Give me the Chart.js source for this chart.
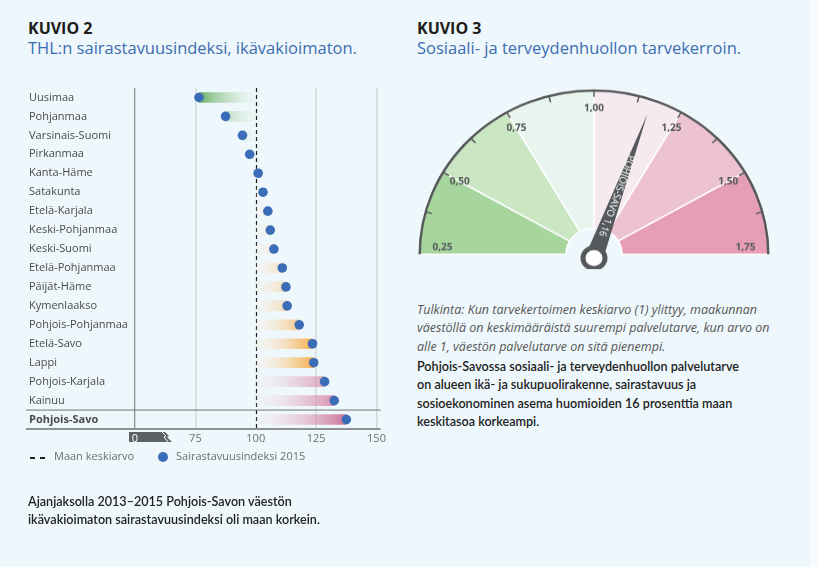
<!DOCTYPE html>
<html lang="fi">
<head>
<meta charset="utf-8">
<script src="https://cdn.jsdelivr.net/npm/chart.js@4.4.1/dist/chart.umd.min.js"></script>
<style>
    body {
        margin: 0;
        width: 818px;
        height: 567px;
        background: #eef7fb;
        font-family: "Open Sans", sans-serif;
        position: relative;
        overflow: hidden;
    }
    .edge { position: absolute; left: 810px; top: 0; width: 8px; height: 567px; background: #f6fbfd; }
    .txt { position: absolute; white-space: nowrap; }
    .kuvio { font-size: 16px; line-height: 20px; font-weight: 700; color: #1d1d1b; }
    .sub { font-size: 16.5px; line-height: 20px; color: #3c6db2; }
    .legend { font-size: 11px; line-height: 14px; color: #6d6e70; }
    .note { font-size: 12.5px; line-height: 18.3px; font-style: italic; color: #555; }
    .body { font-family: Lato, "Open Sans", sans-serif; font-size: 12.6px; line-height: 18.3px; font-weight: 600; color: #222; }
    .dash { position: absolute; top: 457px; width: 5px; height: 1.5px; background: #222; }
    .dot { position: absolute; left: 158px; top: 452px; width: 10px; height: 10px; border-radius: 50%; background: #3a6cb7; }
    #barWrap { position: absolute; left: 0; top: 0; width: 400px; height: 480px; }
    #gaugeWrap { position: absolute; left: 404px; top: 60px; width: 380px; height: 210px;
                 transform: scaleY(0.94); transform-origin: 190px 195px; }
</style>
</head>
<body>
<div class="edge"></div>

<div class="txt kuvio" style="left:28px; top:18px;">KUVIO 2</div>
<div class="txt sub" style="left:28px; top:38px;">THL:n sairastavuusindeksi, ikävakioimaton.</div>

<div class="txt kuvio" style="left:417px; top:18px;">KUVIO 3</div>
<div class="txt sub" style="left:417px; top:38px;">Sosiaali- ja terveydenhuollon tarvekerroin.</div>

<div id="barWrap"><canvas id="barChart" width="400" height="480"></canvas></div>
<div id="gaugeWrap"><canvas id="gaugeChart" width="380" height="210"></canvas></div>

<!-- legend for kuvio 2 -->
<div class="dash" style="left:30px;"></div>
<div class="dash" style="left:40px;"></div>
<div class="txt legend" style="left:54px; top:449px;">Maan keskiarvo</div>
<div class="dot"></div>
<div class="txt legend" style="left:176px; top:449px;">Sairastavuusindeksi 2015</div>

<div class="txt body" style="left:28px; top:493px;">Ajanjaksolla 2013–2015 Pohjois-Savon väestön<br>ikävakioimaton sairastavuusindeksi oli maan korkein.</div>

<div class="txt note" style="left:417px; top:301px;">Tulkinta: Kun tarvekertoimen keskiarvo (1) ylittyy, maakunnan<br>väestöllä on keskimääräistä suurempi palvelutarve, kun arvo on<br>alle 1, väestön palvelutarve on sitä pienempi.</div>
<div class="txt body" style="left:417px; top:358px;">Pohjois-Savossa sosiaali- ja terveydenhuollon palvelutarve<br>on alueen ikä- ja sukupuolirakenne, sairastavuus ja<br>sosioekonominen asema huomioiden 16 prosenttia maan<br>keskitasoa korkeampi.</div>

<script>
// Kuvio 2 data
const regions = ['Uusimaa', 'Pohjanmaa', 'Varsinais-Suomi', 'Pirkanmaa', 'Kanta-Häme', 'Satakunta',
    'Etelä-Karjala', 'Keski-Pohjanmaa', 'Keski-Suomi', 'Etelä-Pohjanmaa', 'Päijät-Häme', 'Kymenlaakso',
    'Pohjois-Pohjanmaa', 'Etelä-Savo', 'Lappi', 'Pohjois-Karjala', 'Kainuu', 'Pohjois-Savo'];
const index2015 = [76.5, 87.5, 94.5, 97.5, 101, 103, 105, 106, 107.5, 111, 112.5, 113, 118, 123.5, 124, 128.5, 132.5, 137.5];
const nationalAverage = 100;
const xTicks = [50, 75, 100, 125, 150];          // 50 sits at the broken-axis "0"
const xTickLabels = ['0', '75', '100', '125', '150'];

// Kuvio 3 data
const gaugeBounds = [0.25, 0.50, 0.75, 1.00, 1.25, 1.50, 1.75];
const gaugeLabels = ['0,25', '0,50', '0,75', '1,00', '1,25', '1,50', '1,75'];
const pohjoisSavoCoef = 1.16;
const needleText = 'POHJOIS-SAVO 1,16';

const FONT = '"Open Sans", sans-serif';

// gradient fill for the bars, depends on which side of the average we are
function barFill(context) {
    const chart = context.chart;
    if (!chart.chartArea) return 'transparent';
    const x = chart.scales.x;
    const ctx = chart.ctx;
    const v = index2015[context.dataIndex];
    let g;
    if (v < nationalAverage) {
        g = ctx.createLinearGradient(x.getPixelForValue(75), 0, x.getPixelForValue(100), 0);
        g.addColorStop(0, '#5aa653');
        g.addColorStop(1, 'rgba(225,240,222,0.15)');
    } else if (v <= 125) {
        g = ctx.createLinearGradient(x.getPixelForValue(100), 0, x.getPixelForValue(125), 0);
        g.addColorStop(0, 'rgba(253,240,222,0.15)');
        g.addColorStop(1, '#f5a73c');
    } else {
        g = ctx.createLinearGradient(x.getPixelForValue(100), 0, x.getPixelForValue(140), 0);
        g.addColorStop(0, 'rgba(245,225,233,0.1)');
        g.addColorStop(1, '#c9668f');
    }
    return g;
}

const barExtras = {
    id: 'barExtras',
    beforeDraw(chart) {
        // grey box + break mark behind the "0" tick
        const ctx = chart.ctx;
        const x0 = chart.scales.x.getPixelForValue(xTicks[0]);
        const top = chart.chartArea.bottom + 3;
        ctx.save();
        ctx.fillStyle = '#5d6163';
        ctx.beginPath();
        ctx.moveTo(x0 - 6, top);
        ctx.lineTo(x0 + 30, top);
        ctx.lineTo(x0 + 34, top + 4);
        ctx.lineTo(x0 + 32, top + 5);
        ctx.lineTo(x0 + 37, top + 10);
        ctx.lineTo(x0 - 6, top + 10);
        ctx.closePath();
        ctx.fill();
        ctx.strokeStyle = '#ffffff';
        ctx.lineWidth = 1;
        ctx.beginPath();
        ctx.moveTo(x0 + 27, top);
        ctx.lineTo(x0 + 31, top + 4);
        ctx.lineTo(x0 + 29, top + 5);
        ctx.lineTo(x0 + 33, top + 10);
        ctx.stroke();
        ctx.restore();
    },
    beforeDatasetsDraw(chart) {
        const ctx = chart.ctx;
        const area = chart.chartArea;
        const x = chart.scales.x;
        const y = chart.scales.y;
        ctx.save();
        // average line
        const xa = Math.round(x.getPixelForValue(nationalAverage)) + 0.5;
        ctx.strokeStyle = '#1d1d1b';
        ctx.lineWidth = 1.2;
        ctx.setLineDash([4, 3]);
        ctx.beginPath();
        ctx.moveTo(xa, area.top);
        ctx.lineTo(xa, area.bottom);
        ctx.stroke();
        ctx.setLineDash([]);
        // separator above Pohjois-Savo
        const last = regions.length - 1;
        const ys = (y.getPixelForValue(last - 1) + y.getPixelForValue(last)) / 2;
        ctx.strokeStyle = '#6f7477';
        ctx.lineWidth = 1;
        ctx.beginPath();
        ctx.moveTo(26, ys);
        ctx.lineTo(area.right + 4, ys);
        ctx.stroke();
        // bottom axis line
        ctx.strokeStyle = '#8d9296';
        ctx.lineWidth = 2;
        ctx.beginPath();
        ctx.moveTo(26, area.bottom);
        ctx.lineTo(area.right + 4, area.bottom);
        ctx.stroke();
        ctx.restore();
    }
};

new Chart(document.getElementById('barChart').getContext('2d'), {
    data: {
        labels: regions,
        datasets: [
            {
                type: 'line',
                label: 'Sairastavuusindeksi 2015',
                data: index2015,
                indexAxis: 'y',
                showLine: false,
                pointRadius: 4.8,
                pointBackgroundColor: '#3a6cb7',
                pointBorderWidth: 0,
                order: 0
            },
            {
                type: 'bar',
                label: 'Ero keskiarvoon',
                data: index2015.map(v => [nationalAverage, v]),
                indexAxis: 'y',
                backgroundColor: barFill,
                barThickness: 10,
                order: 1
            }
        ]
    },
    options: {
        indexAxis: 'y',
        responsive: false,
        animation: false,
        events: [],
        layout: { padding: { left: 29, right: 23.5, top: 88, bottom: 0 } },
        plugins: { legend: { display: false }, tooltip: { enabled: false } },
        scales: {
            x: {
                type: 'linear',
                min: 50,
                max: 150,
                afterBuildTicks: s => { s.ticks = xTicks.map(v => ({ value: v })); },
                afterFit: s => { s.height = 51; },
                border: { display: false },
                grid: {
                    drawTicks: false,
                    color: c => c.tick.value === 50 ? '#8d9296' : (c.tick.value === nationalAverage ? 'rgba(0,0,0,0)' : '#d3dbe0'),
                    lineWidth: c => c.tick.value === 50 ? 1.3 : 1.6
                },
                ticks: {
                    autoSkip: false,
                    maxRotation: 0,
                    padding: 3,
                    callback: (v, i) => xTickLabels[i],
                    color: c => c.tick.value === 50 ? '#ffffff' : '#6d6e70',
                    font: { family: FONT, size: 11 }
                }
            },
            y: {
                type: 'category',
                afterFit: s => { s.width = 106; },
                border: { display: false },
                grid: { display: false },
                ticks: {
                    autoSkip: false,
                    crossAlign: 'far',
                    padding: 0,
                    color: '#4a4a4a',
                    font: c => ({ family: FONT, size: 11, weight: c.index === regions.length - 1 ? 'bold' : 'normal' })
                }
            }
        }
    },
    plugins: [barExtras]
});

// Kuvio 3: gauge
const gaugeMin = gaugeBounds[0];
const gaugeMax = gaugeBounds[gaugeBounds.length - 1];
const angleOf = v => Math.PI + (v - gaugeMin) / (gaugeMax - gaugeMin) * Math.PI;

const gaugeExtras = {
    id: 'gaugeExtras',
    afterDatasetsDraw(chart) {
        const ctx = chart.ctx;
        const arc = chart.getDatasetMeta(0).data[0];
        const cx = arc.x, cy = arc.y, r = arc.outerRadius;
        ctx.save();

        // outer rim
        ctx.strokeStyle = '#56595b';
        ctx.lineWidth = 2.5;
        ctx.beginPath();
        ctx.arc(cx, cy, r - 1.2, Math.PI, 2 * Math.PI);
        ctx.stroke();

        // small ticks, two per band
        ctx.lineWidth = 1.5;
        const step = (gaugeBounds[1] - gaugeBounds[0]) / 2;
        for (let v = gaugeMin + step; v < gaugeMax - 1e-6; v += step) {
            const a = angleOf(v);
            ctx.beginPath();
            ctx.moveTo(cx + Math.cos(a) * (r - 1), cy + Math.sin(a) * (r - 1));
            ctx.lineTo(cx + Math.cos(a) * (r - 8), cy + Math.sin(a) * (r - 8));
            ctx.stroke();
        }

        // band labels
        ctx.fillStyle = '#55595b';
        ctx.font = 'bold 10px ' + FONT;
        ctx.textAlign = 'center';
        ctx.textBaseline = 'middle';
        gaugeBounds.forEach((b, i) => {
            const a = angleOf(b);
            let lx, ly;
            if (i === 0 || i === gaugeBounds.length - 1) {
                lx = cx + Math.cos(a) * (r - 24);
                ly = cy - 7;
            } else {
                lx = cx + Math.cos(a) * 155;
                ly = cy + Math.sin(a) * 155;
            }
            ctx.fillText(gaugeLabels[i], lx, ly);
        });

        // needle
        const a = angleOf(pohjoisSavoCoef);
        const hx = cx, hy = cy + 4;
        const len = 162, half = 9;
        const ux = Math.cos(a), uy = Math.sin(a);
        ctx.fillStyle = '#55595b';
        ctx.beginPath();
        ctx.moveTo(hx - uy * half, hy + ux * half);
        ctx.lineTo(hx + ux * len, hy + uy * len);
        ctx.lineTo(hx + uy * half, hy - ux * half);
        ctx.closePath();
        ctx.fill();

        // text along the needle
        ctx.save();
        ctx.translate(hx + ux * 70, hy + uy * 70);
        ctx.rotate(a - Math.PI);
        ctx.fillStyle = '#ffffff';
        ctx.font = '10px ' + FONT;
        ctx.fillText(needleText, 0, 0.5);
        ctx.restore();

        // hub
        ctx.beginPath();
        ctx.arc(hx, hy, 11, 0, 2 * Math.PI);
        ctx.fillStyle = '#ffffff';
        ctx.fill();
        ctx.lineWidth = 5;
        ctx.strokeStyle = '#55595b';
        ctx.stroke();

        ctx.restore();
    }
};

new Chart(document.getElementById('gaugeChart').getContext('2d'), {
    type: 'doughnut',
    data: {
        labels: gaugeLabels.slice(1),
        datasets: [{
            data: gaugeBounds.slice(1).map((b, i) => b - gaugeBounds[i]),
            backgroundColor: ['#a6d69d', '#cae6c3', '#e8f4ee', '#f6eaf0', '#eec3d1', '#e69db6'],
            borderColor: '#ffffff',
            borderWidth: 1.5
        }]
    },
    options: {
        responsive: false,
        animation: false,
        events: [],
        circumference: 180,
        rotation: -90,
        cutout: '16%',
        layout: { padding: { left: 13, right: 13, top: 18, bottom: 15 } },
        plugins: { legend: { display: false }, tooltip: { enabled: false } }
    },
    plugins: [gaugeExtras]
});
</script>
</body>
</html>
